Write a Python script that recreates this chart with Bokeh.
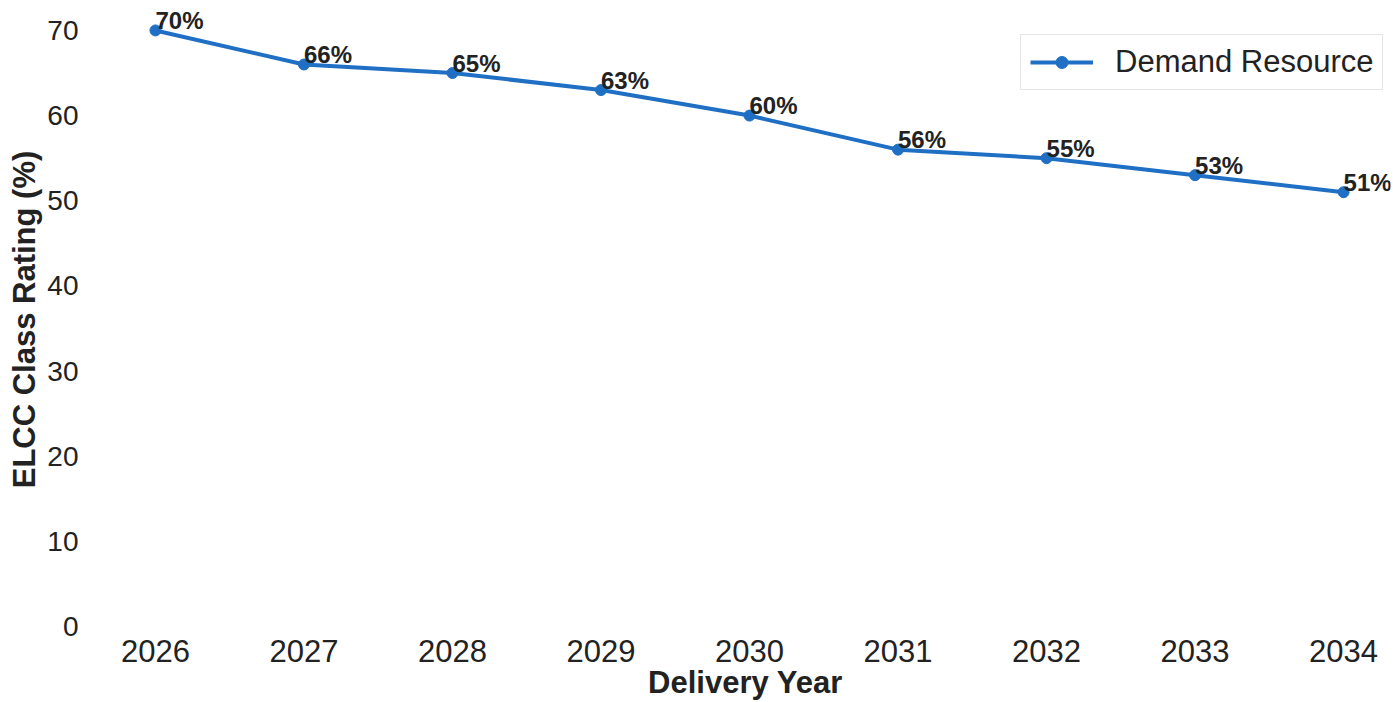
from bokeh.plotting import figure
from bokeh.models import ColumnDataSource, Range1d, FixedTicker, Legend, LegendItem
from bokeh.core.properties import value
from bokeh.embed import file_html
from bokeh.resources import INLINE

years = [2026, 2027, 2028, 2029, 2030, 2031, 2032, 2033, 2034]
ratings = [70, 66, 65, 63, 60, 56, 55, 53, 51]
labels = [f"{v}%" for v in ratings]
y_ticks = [0, 10, 20, 30, 40, 50, 60, 70]
series_name = "Demand Resource"

FONT = "Liberation Sans"
BLUE = "#1f6fc4"

src = ColumnDataSource(dict(x=years, y=ratings, t=labels))

p = figure(width=1393, height=702, output_backend="svg", toolbar_location=None,
           x_range=Range1d(2025.63, 2034.316), y_range=Range1d(-0.47, 72.575),
           min_border_left=100, min_border_right=3, min_border_top=8, min_border_bottom=70)
p.outline_line_color = None
p.xgrid.visible = False
p.ygrid.visible = False
p.background_fill_color = "white"
p.border_fill_color = "white"

line = p.line("x", "y", source=src, line_color=BLUE, line_width=4)
pts = p.scatter("x", "y", source=src, size=11, fill_color=BLUE, line_color=BLUE)
p.text("x", "y", text="t", source=src, text_font=value(FONT), text_font_style="bold",
       text_font_size="24px", text_color="#222222", text_align="left",
       text_baseline="middle", x_offset=0, y_offset=-10)

for ax in (p.xaxis[0], p.yaxis[0]):
    ax.axis_line_color = None
    ax.major_tick_line_color = None
    ax.minor_tick_line_color = None
    ax.major_label_text_font = FONT
    ax.major_label_text_color = "#222222"
    ax.axis_label_text_font = FONT
    ax.axis_label_text_font_style = "bold"
    ax.axis_label_text_color = "#222222"

p.xaxis.ticker = FixedTicker(ticks=years)
p.yaxis.ticker = FixedTicker(ticks=y_ticks)
p.xaxis.major_label_text_font_size = "31px"
p.yaxis.major_label_text_font_size = "28px"
p.xaxis.axis_label = "Delivery Year"
p.yaxis.axis_label = "ELCC Class Rating (%)"
p.xaxis.axis_label_text_font_size = "31px"
p.yaxis.axis_label_text_font_size = "31px"
p.xaxis.major_label_standoff = 3
p.xaxis.axis_label_standoff = 0
p.yaxis.major_label_standoff = 16
p.yaxis.axis_label_standoff = 2

legend = Legend(items=[LegendItem(label=series_name, renderers=[line, pts])],
                location=(920, 540), label_text_font=FONT, label_text_font_size="31px",
                label_text_color="#222222", glyph_width=63, glyph_height=30,
                label_standoff=22, padding=9, spacing=0,
                border_line_color="#cccccc", border_line_width=1,
                background_fill_color="white", background_fill_alpha=1.0)
p.add_layout(legend)

open("out.html", "w").write(file_html(p, INLINE))
